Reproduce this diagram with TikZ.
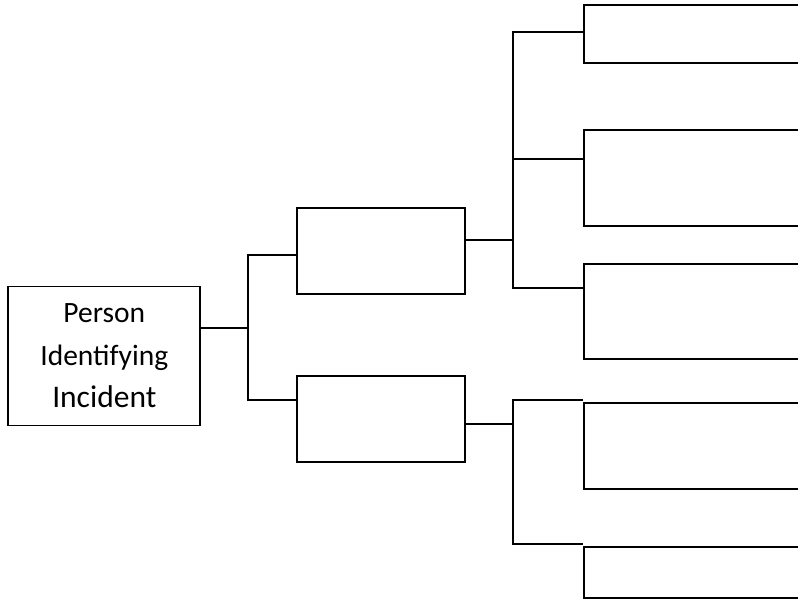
\documentclass[tikz,border=0pt]{standalone}
\usepackage{fontspec}
\setmainfont{Carlito}
\usetikzlibrary{positioning,calc}
\tikzset{
  rootbox/.style={draw=black,line width=1.8bp,align=center,inner sep=0pt,
    minimum width=192bp,minimum height=139bp,font=\fontsize{29.5bp}{42.5bp}\selectfont},
  stagebox/.style={draw=black,line width=1.8bp,minimum width=168bp,minimum height=86bp},
  leafbox/.style={draw=black,line width=1.8bp,minimum width=246bp},
  branchline/.style={draw=black,line width=1.8bp}
}

\begin{document}
\begin{tikzpicture}[x=1bp,y=-1bp]
  \useasboundingbox (0,0) rectangle (798,600);
  \clip (0,0) rectangle (798,600);
  \node[rootbox] (P) at (104.3,356)
    {Person\\Identifying\\{\fontsize{31.5bp}{42.5bp}\selectfont Incident}};
  \node[stagebox] (S1) at (380.7,251) {};
  \node[stagebox] (S2) at (380.7,418.8) {};
  \node[leafbox,minimum height=57.7bp] (L1) at (707.3,33.8) {};
  \node[leafbox,minimum height=96bp] (L2) at (707.3,178.3) {};
  \node[leafbox,minimum height=95.3bp] (L3) at (707.3,311.7) {};
  \node[leafbox,minimum height=86.7bp] (L4) at (707.3,446) {};
  \node[leafbox,minimum height=50.7bp] (L5) at (707.3,572.3) {};
  \coordinate (PJ) at (248.3,328);
  \coordinate (PT) at (248.3,255);
  \coordinate (PB) at (248.3,400);
  \coordinate (AJ) at (512.7,240);
  \coordinate (AT) at (512.7,32);
  \coordinate (AM) at (512.7,159.3);
  \coordinate (AB) at (512.7,288);
  \coordinate (BJ) at (512.7,424);
  \coordinate (BT) at (512.7,400.3);
  \coordinate (BB) at (512.7,543.7);
  \draw[branchline] (P.east |- PJ) -- (PJ);
  \draw[branchline] (S1.west |- PT) -- (PT) -- (PB) -- (S2.west |- PB);
  \draw[branchline] (S1.east |- AJ) -- (AJ);
  \draw[branchline] (L1.west |- AT) -- (AT) -- (AB) -- (L3.west |- AB);
  \draw[branchline] (AM) -- (L2.west |- AM);
  \draw[branchline] (S2.east |- BJ) -- (BJ);
  \draw[branchline] (L4.west |- BT) -- (BT) -- (BB) -- (L5.west |- BB);
\end{tikzpicture}
\end{document}
